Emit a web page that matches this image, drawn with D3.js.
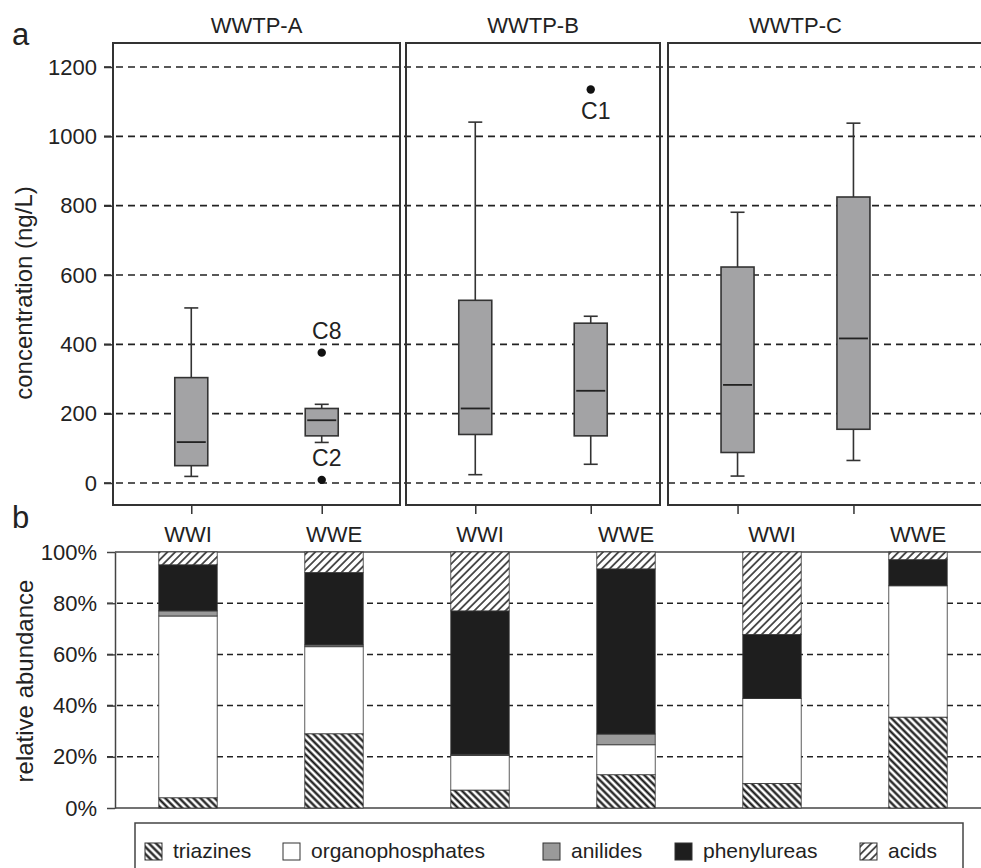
<!DOCTYPE html>
<html>
<head>
<meta charset="utf-8">
<script src="https://cdn.jsdelivr.net/npm/d3@7"></script>
<style>
  body { margin: 0; background: #fff; }
  text { font-family: "Liberation Sans", Arial, Helvetica, sans-serif; fill: #222; }
</style>
</head>
<body>
<div id="chart"></div>
<script>
// ---- data ----
const plants = ["WWTP-A", "WWTP-B", "WWTP-C"];
const samples = ["WWI", "WWE"];

// box plot stats (ng/L), order: A-WWI, A-WWE, B-WWI, B-WWE, C-WWI, C-WWE
const whiskerLow  = [19, 117, 24, 54, 20, 65];
const q1          = [50, 136, 140, 136, 88, 155];
const median      = [118, 181, 215, 266, 283, 417];
const q3          = [304, 215, 527, 461, 623, 825];
const whiskerHigh = [505, 227, 1041, 481, 781, 1038];

const outliers = [
  { plant: "WWTP-A", sample: "WWE", value: 376, label: "C8", above: true },
  { plant: "WWTP-A", sample: "WWE", value: 9, label: "C2", above: true },
  { plant: "WWTP-B", sample: "WWE", value: 1135, label: "C1", above: false }
];
const concTicks = [0, 200, 400, 600, 800, 1000, 1200];

// relative abundance (%), same order as above
const classes = ["triazines", "organophosphates", "anilides", "phenylureas", "acids"];
const triazines        = [4, 29, 7, 13, 9.6, 35.5];
const organophosphates = [71, 34, 13.5, 11.7, 33.2, 51.3];
const anilides         = [2, 0.7, 0.5, 4.2, 0, 0];
const phenylureas      = [18, 28.3, 56, 64.5, 25, 10.2];
const acids            = [5, 8, 23, 6.6, 32.2, 3];
const pctTicks = [0, 20, 40, 60, 80, 100];

// ---- setup ----
const width = 981, height = 868;
const svg = d3.select("#chart").append("svg")
  .attr("width", width)
  .attr("height", height);

const defs = svg.append("defs");
function hatch(id, angle, size, sw) {
  const p = defs.append("pattern")
    .attr("id", id)
    .attr("patternUnits", "userSpaceOnUse")
    .attr("width", size).attr("height", size)
    .attr("patternTransform", `rotate(${angle})`);
  p.append("rect").attr("width", size).attr("height", size).attr("fill", "#fff");
  p.append("line")
    .attr("x1", size / 2).attr("y1", 0)
    .attr("x2", size / 2).attr("y2", size)
    .attr("stroke", "#111").attr("stroke-width", sw);
}
hatch("pat-triazines", -45, 5, 2.2);
hatch("pat-acids", 45, 5.5, 1.4);

const fills = {
  triazines: "url(#pat-triazines)",
  organophosphates: "#fff",
  anilides: "#9a9a9a",
  phenylureas: "#1e1e1e",
  acids: "url(#pat-acids)"
};

// rows for both panels
const rows = d3.range(6).map(i => ({
  key: plants[Math.floor(i / 2)] + " " + samples[i % 2],
  plant: plants[Math.floor(i / 2)],
  sample: samples[i % 2],
  lo: whiskerLow[i], q1: q1[i], med: median[i], q3: q3[i], hi: whiskerHigh[i],
  triazines: triazines[i], organophosphates: organophosphates[i],
  anilides: anilides[i], phenylureas: phenylureas[i], acids: acids[i]
}));

// ---- panel a: box plots ----
const panelTop = 43, panelBottom = 505;
const yConc = d3.scaleLinear().domain([0, 1200]).range([483, 67]);

const panelLeft = [113, 406, 668];
const panelWidth = [287, 254, 255];
const xPanel = {};
plants.forEach((p, j) => {
  xPanel[p] = d3.scalePoint().domain(samples)
    .range([panelLeft[j], panelLeft[j] + panelWidth[j]])
    .padding(0.6);
});

// grid lines
svg.append("g").selectAll("line")
  .data(concTicks)
  .enter().append("line")
  .attr("x1", 104).attr("x2", width)
  .attr("y1", d => yConc(d)).attr("y2", d => yConc(d))
  .attr("stroke", "#222")
  .attr("stroke-width", 1.6)
  .attr("stroke-dasharray", "7,5");

// left axis
const axA = svg.append("g")
  .attr("transform", "translate(113,0)")
  .call(d3.axisLeft(yConc).tickValues(concTicks).tickSize(9).tickPadding(7).tickFormat(d3.format("d")));
axA.select(".domain").remove();
axA.selectAll("line").attr("stroke", "#333").attr("stroke-width", 1.5);
axA.selectAll("text").attr("font-size", 22).style("font-family", "Liberation Sans, Arial, sans-serif").attr("fill", "#222");

plants.forEach((p, j) => {
  const xs = xPanel[p];
  // panel frame (last one runs off the page)
  svg.append("rect")
    .attr("x", panelLeft[j]).attr("y", panelTop)
    .attr("width", j === 2 ? 400 : panelWidth[j])
    .attr("height", panelBottom - panelTop)
    .attr("fill", "none")
    .attr("stroke", "#333")
    .attr("stroke-width", 2);

  const axB = svg.append("g")
    .attr("transform", `translate(0,${panelBottom})`)
    .call(d3.axisBottom(xs).tickSize(9).tickFormat(""));
  axB.select(".domain").remove();
  axB.selectAll("line").attr("stroke", "#333").attr("stroke-width", 1.5);

  svg.append("text")
    .attr("x", (xs.range()[0] + xs.range()[1]) / 2)
    .attr("y", 33)
    .attr("text-anchor", "middle")
    .attr("font-size", 22)
    .text(p);
});

const boxW = 33, capW = 14;
const boxes = svg.append("g").selectAll("g")
  .data(rows)
  .enter().append("g")
  .attr("transform", d => `translate(${xPanel[d.plant](d.sample)},0)`);

boxes.append("line")
  .attr("y1", d => yConc(d.lo)).attr("y2", d => yConc(d.hi))
  .attr("stroke", "#333").attr("stroke-width", 1.6);
boxes.append("line")
  .attr("x1", -capW / 2).attr("x2", capW / 2)
  .attr("y1", d => yConc(d.hi)).attr("y2", d => yConc(d.hi))
  .attr("stroke", "#333").attr("stroke-width", 1.6);
boxes.append("line")
  .attr("x1", -capW / 2).attr("x2", capW / 2)
  .attr("y1", d => yConc(d.lo)).attr("y2", d => yConc(d.lo))
  .attr("stroke", "#333").attr("stroke-width", 1.6);
boxes.append("rect")
  .attr("x", -boxW / 2).attr("width", boxW)
  .attr("y", d => yConc(d.q3))
  .attr("height", d => yConc(d.q1) - yConc(d.q3))
  .attr("fill", "#a3a3a5")
  .attr("stroke", "#333").attr("stroke-width", 1.6);
boxes.append("line")
  .attr("x1", -boxW / 2 + 2).attr("x2", boxW / 2 - 2)
  .attr("y1", d => yConc(d.med)).attr("y2", d => yConc(d.med))
  .attr("stroke", "#222").attr("stroke-width", 1.8);

// outliers
svg.append("g").selectAll("circle")
  .data(outliers)
  .enter().append("circle")
  .attr("cx", d => xPanel[d.plant](d.sample))
  .attr("cy", d => yConc(d.value))
  .attr("r", 4.2)
  .attr("fill", "#111");
svg.append("g").selectAll("text")
  .data(outliers)
  .enter().append("text")
  .attr("x", d => xPanel[d.plant](d.sample) + 5)
  .attr("y", d => yConc(d.value) + (d.above ? -14 : 29))
  .attr("text-anchor", "middle")
  .attr("font-size", 23)
  .text(d => d.label);

svg.append("text")
  .attr("transform", "translate(32,293) rotate(-90)")
  .attr("text-anchor", "middle")
  .attr("font-size", 24)
  .text("concentration (ng/L)");
svg.append("text").attr("x", 12).attr("y", 45).attr("font-size", 31).text("a");

// ---- panel b: stacked bars ----
const xBar = d3.scaleBand()
  .domain(rows.map(d => d.key))
  .range([115, 991])
  .paddingInner(0.6)
  .paddingOuter(0.3);
const yPct = d3.scaleLinear().domain([0, 100]).range([808, 552]);

svg.append("g").selectAll("line")
  .data(pctTicks.filter(d => d > 0 && d < 100))
  .enter().append("line")
  .attr("x1", 107).attr("x2", width)
  .attr("y1", d => yPct(d)).attr("y2", d => yPct(d))
  .attr("stroke", "#222")
  .attr("stroke-width", 1.5)
  .attr("stroke-dasharray", "6,4");

// frame lines at 0% and 100%
svg.append("g").selectAll("line")
  .data([0, 100])
  .enter().append("line")
  .attr("x1", 115).attr("x2", width)
  .attr("y1", d => yPct(d)).attr("y2", d => yPct(d))
  .attr("stroke", "#444")
  .attr("stroke-width", 1.5);

const axP = svg.append("g")
  .attr("transform", "translate(115,0)")
  .call(d3.axisLeft(yPct).tickValues(pctTicks).tickSize(8).tickSizeOuter(0).tickPadding(10).tickFormat(d => d + "%"));
axP.selectAll("line, path").attr("stroke", "#444").attr("stroke-width", 1.5);
axP.selectAll("text").attr("font-size", 22).style("font-family", "Liberation Sans, Arial, sans-serif").attr("fill", "#222");

const stacked = d3.stack().keys(classes)(rows);
svg.append("g").selectAll("g")
  .data(stacked)
  .enter().append("g")
  .attr("fill", d => fills[d.key])
  .selectAll("rect")
  .data(d => d.filter(s => s[1] - s[0] > 0))
  .enter().append("rect")
  .attr("x", d => xBar(d.data.key))
  .attr("width", xBar.bandwidth())
  .attr("y", d => yPct(d[1]))
  .attr("height", d => yPct(d[0]) - yPct(d[1]))
  .attr("stroke", "#333")
  .attr("stroke-width", 0.8);

svg.append("g").selectAll("text")
  .data(rows)
  .enter().append("text")
  .attr("x", d => xBar(d.key) + xBar.bandwidth() / 2)
  .attr("y", 542)
  .attr("text-anchor", "middle")
  .attr("font-size", 22)
  .text(d => d.sample);

svg.append("text")
  .attr("transform", "translate(33,681) rotate(-90)")
  .attr("text-anchor", "middle")
  .attr("font-size", 24)
  .text("relative abundance");
svg.append("text").attr("x", 12).attr("y", 528).attr("font-size", 31).text("b");

// ---- legend ----
svg.append("rect")
  .attr("x", 135).attr("y", 823)
  .attr("width", 828).attr("height", 60)
  .attr("fill", "none")
  .attr("stroke", "#444")
  .attr("stroke-width", 1.5);
const legendX = [145, 283, 543, 675, 860];
const legend = svg.append("g").selectAll("g")
  .data(classes)
  .enter().append("g")
  .attr("transform", (d, i) => `translate(${legendX[i]},843)`);
legend.append("rect")
  .attr("width", 17).attr("height", 17)
  .attr("fill", d => fills[d])
  .attr("stroke", "#333")
  .attr("stroke-width", 1);
legend.append("text")
  .attr("x", 28).attr("y", 15)
  .attr("font-size", 21)
  .text(d => d);
</script>
</body>
</html>
